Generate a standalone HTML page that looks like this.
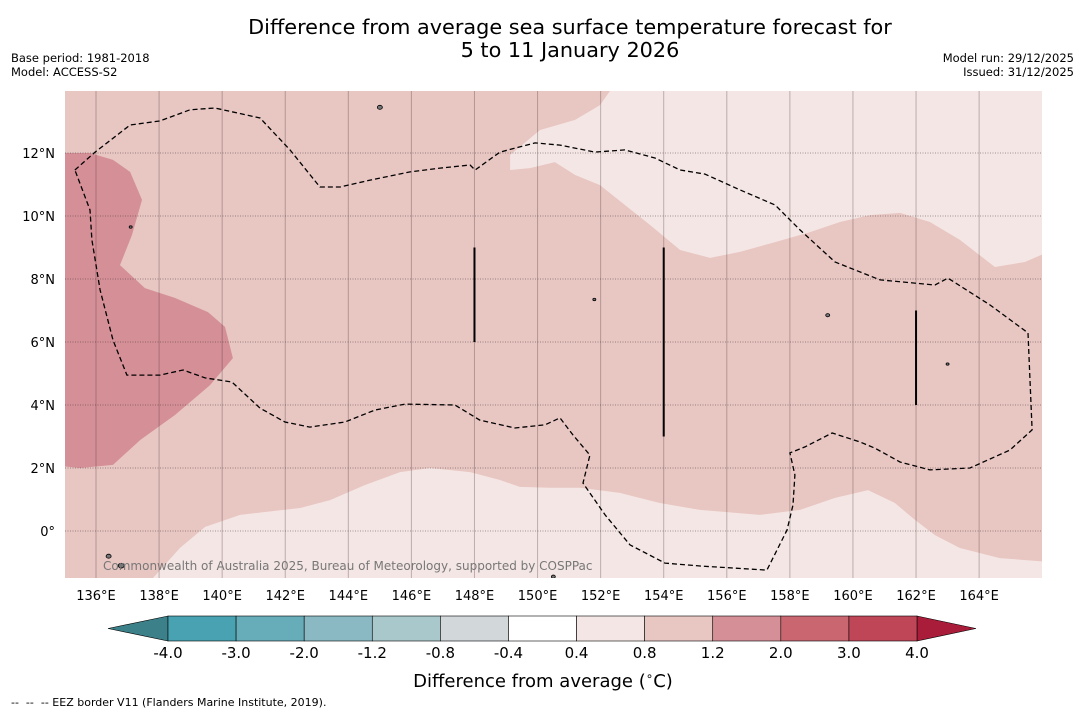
<!DOCTYPE html>
<html><head><meta charset="utf-8"><style>
body{margin:0;background:#fff;font-family:"Liberation Sans","DejaVu Sans",sans-serif}
svg text{font-family:"DejaVu Sans","Liberation Sans",sans-serif}
</style></head><body>
<svg id="chart" width="1085" height="713" xmlns="http://www.w3.org/2000/svg">
<text x="570" y="34" font-size="20.8" text-anchor="middle">Difference from average sea surface temperature forecast for</text>
<text x="570" y="57" font-size="20.8" text-anchor="middle">5 to 11 January 2026</text>
<text x="11" y="62" font-size="11.5">Base period: 1981-2018</text>
<text x="11" y="76" font-size="11.5">Model: ACCESS-S2</text>
<text x="1074" y="62" font-size="11.5" text-anchor="end">Model run: 29/12/2025</text>
<text x="1074" y="76" font-size="11.5" text-anchor="end">Issued: 31/12/2025</text>
<defs><clipPath id="mc"><rect x="65" y="91" width="977" height="487"/></clipPath></defs>
<g id="map" clip-path="url(#mc)"></g>
<g id="axes"></g>
<g id="cbar"></g>
<text x="543" y="687" font-size="18" text-anchor="middle">Difference from average (<tspan font-size="12" dy="-7">∘</tspan><tspan dy="7">C)</tspan></text>
<text x="11" y="706" font-size="11" xml:space="preserve">--  --  -- EEZ border V11 (Flanders Marine Institute, 2019).</text>
</svg>
<script>
const lonTicks=[136,138,140,142,144,146,148,150,152,154,156,158,160,162,164];
const latTicks=[0,2,4,6,8,10,12];
const latLabels=["0°","2°N","4°N","6°N","8°N","10°N","12°N"];
const cbLevels=["-4.0","-3.0","-2.0","-1.2","-0.8","-0.4","0.4","0.8","1.2","2.0","3.0","4.0"];
const cbColors=["#48a2b1","#67acb9","#8ab9c4","#a9c8cc","#d2d7d9","#ffffff","#f4e6e4","#e8c6c2","#d58f97","#c9666f","#bf4657"];
const regionLight1=[[152.46,14.2],[151.98,13.52],[151.19,13.05],[150.08,12.73],[149.13,11.94],[149.13,11.46],[149.76,11.52],[150.55,11.71],[151.19,11.3],[151.98,10.98],[152.77,10.35],[153.57,9.71],[154.52,8.92],[155.47,8.67],[156.42,8.86],[157.53,9.17],[158.64,9.49],[159.59,9.81],[160.54,10.03],[161.49,10.1],[162.44,9.81],[163.39,9.24],[164.5,8.38],[165.45,8.54],[166.2,8.86],[166.2,14.2]];
const regionLight2=[[137.71,-1.6],[138.66,-0.54],[139.46,0.13],[140.57,0.51],[142.47,0.73],[143.42,0.98],[144.53,1.46],[145.64,1.87],[146.59,2.0],[147.86,1.87],[148.81,1.62],[149.44,1.4],[150.39,1.37],[151.35,1.37],[152.61,1.21],[153.88,0.89],[155.15,0.67],[157.05,0.51],[158.32,0.67],[159.43,1.05],[160.48,1.3],[161.33,0.89],[161.97,0.35],[162.6,-0.13],[163.39,-0.54],[164.66,-0.86],[166.2,-0.98],[166.2,-1.6]];
const regionDark=[[134.9,12.0],[135.81,12.0],[136.54,11.78],[137.08,11.4],[137.46,10.51],[137.14,9.4],[136.76,8.44],[137.55,7.71],[138.5,7.4],[139.55,6.95],[140.09,6.48],[140.34,5.49],[139.61,4.63],[138.5,3.68],[137.4,2.89],[136.54,2.1],[135.49,2.0],[134.9,2.06]];
const eez=[[135.33,11.46],[135.97,12.03],[137.08,12.89],[138.03,13.02],[138.98,13.37],[139.77,13.43],[141.2,13.11],[142.15,12.1],[143.1,10.92],[143.74,10.92],[144.69,11.14],[145.96,11.4],[146.91,11.52],[147.86,11.62],[148.02,11.46],[148.81,12.03],[149.92,12.32],[150.71,12.25],[151.82,12.03],[152.77,12.1],[153.72,11.84],[154.52,11.46],[155.31,11.33],[156.42,10.83],[157.53,10.35],[158.32,9.56],[159.43,8.54],[160.86,7.97],[162.6,7.81],[163.01,8.03],[164.35,7.17],[165.55,6.29],[165.68,3.21],[164.98,2.57],[163.71,2.0],[162.44,1.94],[161.49,2.19],[160.7,2.63],[160.22,2.83],[159.34,3.11],[158.48,2.67],[158.0,2.48],[158.16,1.78],[158.1,0.83],[157.91,0.03],[157.27,-1.24],[155.15,-1.11],[154.04,-1.02],[152.93,-0.44],[152.14,0.51],[151.44,1.52],[151.66,2.41],[151.12,3.05],[150.71,3.59],[150.24,3.37],[149.28,3.27],[148.17,3.52],[147.38,4.0],[145.8,4.03],[144.85,3.84],[143.89,3.46],[142.78,3.3],[141.99,3.46],[141.2,3.9],[140.31,4.73],[139.46,4.86],[138.76,5.11],[138.03,4.95],[136.98,4.95],[136.54,6.06],[136.13,7.65],[135.87,9.24],[135.81,10.19],[135.33,11.46]];
const bars=[[148,9,6],[154,9,3],[162,7,4]];
const islands=[[145.0,13.45,2.5],[136.4,-0.8,2.5],[136.8,-1.1,3],[159.2,6.85,2],[150.5,-1.45,2],[151.8,7.35,1.5],[163.0,5.3,1.5],[137.1,9.65,1.5]];
const X=l=>96+(l-136)*31.54, Y=a=>531-a*31.5;
const NS="http://www.w3.org/2000/svg";
function mk(tag,attrs,parent){const e=document.createElementNS(NS,tag);for(const k in attrs)e.setAttribute(k,attrs[k]);parent.appendChild(e);return e;}
const map=document.getElementById('map'),axes=document.getElementById('axes'),cb=document.getElementById('cbar');
const pts=a=>a.map(p=>X(p[0]).toFixed(1)+','+Y(p[1]).toFixed(1)).join(' ');
let bg=mk('rect',{x:65,y:91,width:977,height:487,fill:cbColors[7]},map);


let p1=mk('polygon',{points:pts(regionLight1),fill:cbColors[6]},map);


let p2=mk('polygon',{points:pts(regionLight2),fill:cbColors[6]},map);


let p3=mk('polygon',{points:pts(regionDark),fill:cbColors[8]},map);


lonTicks.forEach(l=>{let g=mk('line',{x1:X(l),x2:X(l),y1:91,y2:578,stroke:'rgba(60,40,40,0.3)','stroke-width':1},map);


let t=mk('text',{x:X(l),y:600,'font-size':13,'text-anchor':'middle'},axes);t.textContent=l+'°E';

});
latTicks.forEach((a,i)=>{let g=mk('line',{x1:65,x2:1042,y1:Y(a),y2:Y(a),stroke:'rgba(40,30,30,0.55)','stroke-width':0.8,'stroke-dasharray':'1,1.5'},map);


let t=mk('text',{x:55,y:Y(a)+5,'font-size':13,'text-anchor':'end'},axes);t.textContent=latLabels[i];

});
let ez=mk('polyline',{points:pts(eez),fill:'none',stroke:'#000','stroke-width':1.3,'stroke-dasharray':'5,3'},map);


bars.forEach(b=>{let l=mk('line',{x1:X(b[0]),x2:X(b[0]),y1:Y(b[1]),y2:Y(b[2]),stroke:'#000','stroke-width':2},map);

});
islands.forEach(s=>{let c=mk('ellipse',{cx:X(s[0]),cy:Y(s[1]),rx:s[2],ry:s[2]*0.8,fill:'#777',stroke:'#000','stroke-width':0.8},map);

});
let cr=mk('text',{x:103,y:570,'font-size':12,fill:'#777'},map);cr.textContent='Commonwealth of Australia 2025, Bureau of Meteorology, supported by COSPPac';


const cx0=168,cx1=917,cy=616,ch=25,bw=(cx1-cx0)/cbColors.length;
let lt=mk('polygon',{points:`${cx0},${cy} 108,${cy+ch/2} ${cx0},${cy+ch}`,fill:'#3c8089',stroke:'#000','stroke-width':0.6},cb);


let rt=mk('polygon',{points:`${cx1},${cy} 976,${cy+ch/2} ${cx1},${cy+ch}`,fill:'#a91d3a',stroke:'#000','stroke-width':0.6},cb);


cbColors.forEach((c,i)=>{let r=mk('rect',{x:cx0+i*bw,y:cy,width:bw,height:ch,fill:c,stroke:'#000','stroke-width':0.6},cb);

});
cbLevels.forEach((v,i)=>{let t=mk('text',{x:cx0+i*bw,y:658,'font-size':15,'text-anchor':'middle'},cb);t.textContent=v;

});
</script>
</body></html>
